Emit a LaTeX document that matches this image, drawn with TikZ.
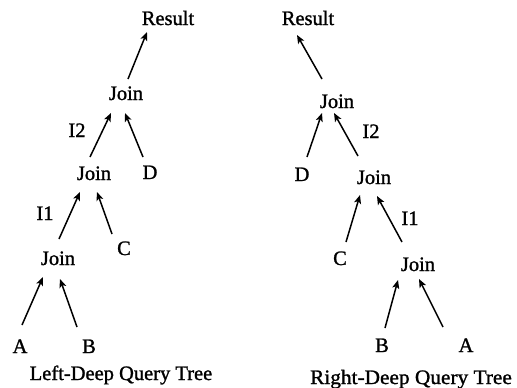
\documentclass[tikz,border=0pt]{standalone}
\usepackage{fontspec}
\setmainfont{Liberation Serif}[FakeBold=1.2]
\usetikzlibrary{arrows.meta}
\begin{document}
\begin{tikzpicture}[x=1bp,y=-1bp,
  lbl/.style={anchor=base,inner sep=0pt,font=\fontsize{20.5bp}{24bp}\selectfont},
  arr/.style={-{Stealth[length=8.5bp,width=7bp,inset=2bp]},line width=1.5bp}]
\useasboundingbox (0,0) rectangle (517,387);
% Left-deep tree
\node[lbl] (res) at (168,25) {Result};
\node[lbl] (j1) at (126,100) {Join};
\node[lbl] (i2) at (77,137) {I2};
\node[lbl] (j2) at (94,180) {Join};
\node[lbl] (d) at (150,179) {D};
\node[lbl] (i1) at (45,220) {I1};
\node[lbl] (c) at (124,255) {C};
\node[lbl] (j3) at (58,265) {Join};
\node[lbl] (a) at (20,353) {A};
\node[lbl] (b) at (89,353) {B};
\node[lbl] (capl) at (121,380) {Left-Deep Query Tree};
\draw[arr] ([shift={(2,-21)}]j1.base) -- ([shift={(-21,7)}]res.base);
\draw[arr] ([shift={(-4,-23)}]j2.base) -- ([shift={(-15,13)}]j1.base);
\draw[arr] ([shift={(-7,-22)}]d.base) -- ([shift={(-1,13)}]j1.base);
\draw[arr] ([shift={(1,-26)}]j3.base) -- ([shift={(-14,12)}]j2.base);
\draw[arr] ([shift={(-12,-21)}]c.base) -- ([shift={(3,12)}]j2.base);
\draw[arr] ([shift={(2,-28)}]a.base) -- ([shift={(-15,12)}]j3.base);
\draw[arr] ([shift={(-12,-26)}]b.base) -- ([shift={(2,14)}]j3.base);
% Right-deep tree
\node[lbl] (rres) at (308,25) {Result};
\node[lbl] (rj1) at (337,108) {Join};
\node[lbl] (ri2) at (371,138) {I2};
\node[lbl] (rd) at (302,181) {D};
\node[lbl] (rj2) at (374,184) {Join};
\node[lbl] (ri1) at (410,225) {I1};
\node[lbl] (rc) at (340,265) {C};
\node[lbl] (rj3) at (418,271) {Join};
\node[lbl] (rb) at (382,352) {B};
\node[lbl] (ra) at (466,352) {A};
\node[lbl,xscale=1.04] (capr) at (411,384) {Right-Deep Query Tree};
\draw[arr] ([shift={(-15,-29)}]rj1.base) -- ([shift={(-11,10)}]rres.base);
\draw[arr] ([shift={(5,-24)}]rd.base) -- ([shift={(-15,5)}]rj1.base);
\draw[arr] ([shift={(-16,-28)}]rj2.base) -- ([shift={(-3,5)}]rj1.base);
\draw[arr] ([shift={(6,-23)}]rc.base) -- ([shift={(-14,11)}]rj2.base);
\draw[arr] ([shift={(-16,-29)}]rj3.base) -- ([shift={(3,12)}]rj2.base);
\draw[arr] ([shift={(3,-24)}]rb.base) -- ([shift={(-20,9)}]rj3.base);
\draw[arr] ([shift={(-23,-25)}]ra.base) -- ([shift={(1,8)}]rj3.base);
\end{tikzpicture}
\end{document}
